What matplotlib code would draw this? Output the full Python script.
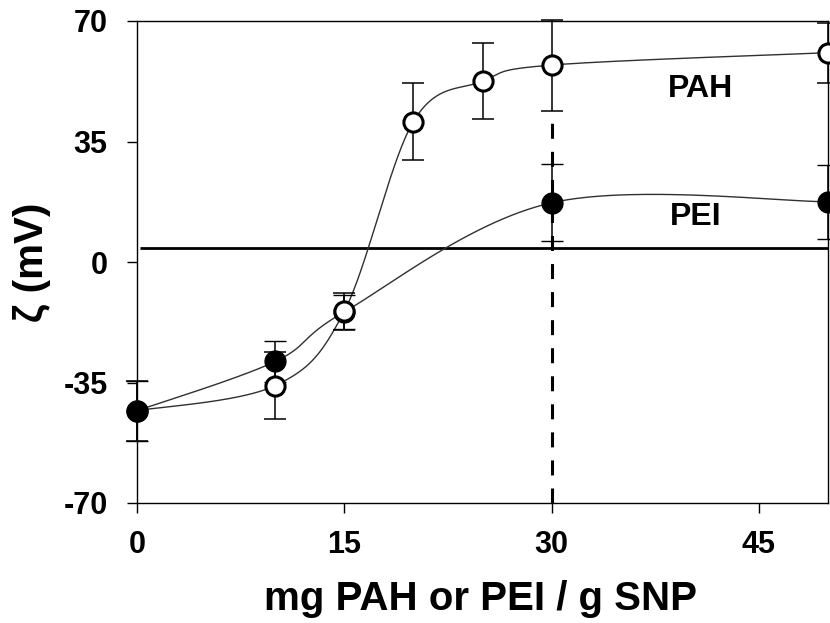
import numpy as np
import matplotlib
matplotlib.use("Agg")
import matplotlib.pyplot as plt

# ---- data ----
x_pah = [0, 10, 15, 20, 25, 30, 50]
y_pah = [-43.2, -35.9, -14.3, 40.8, 52.5, 57.2, 60.8]
e_pah = [8.7, 9.8, 5.4, 11.1, 11.0, 13.2, 8.7]

x_pei = [0, 10, 15, 30, 50]
y_pei = [-43.2, -28.9, -14.5, 17.2, 17.5]
e_pei = [8.7, 6.0, 5.0, 11.2, 10.8]

x_ticks = [0, 15, 30, 45]
y_ticks = [-70, -35, 0, 35, 70]
ref_level = 4.0
marker_x = 30
label_pah = "PAH"
label_pei = "PEI"
xlabel = "mg PAH or PEI / g SNP"
ylabel = "ζ (mV)"


def excel_smooth(x, y, n=60):
    P = np.column_stack([x, y]).astype(float)
    out = []
    for i in range(len(P) - 1):
        p0 = P[i - 1] if i > 0 else P[i]
        p1 = P[i]
        p2 = P[i + 1]
        p3 = P[i + 2] if i + 2 < len(P) else P[i + 1]
        c1 = p1 + (p2 - p0) / 6.0
        c2 = p2 - (p3 - p1) / 6.0
        t = np.linspace(0, 1, n)[:, None]
        seg = (1 - t) ** 3 * p1 + 3 * (1 - t) ** 2 * t * c1 + 3 * (1 - t) * t ** 2 * c2 + t ** 3 * p2
        out.append(seg if i == 0 else seg[1:])
    s = np.vstack(out)
    return s[:, 0], s[:, 1]


plt.rcParams['font.family'] = ['Liberation Sans', 'DejaVu Sans']
plt.rcParams['font.weight'] = 'bold'
plt.rcParams['axes.unicode_minus'] = False

W, H = 830, 623
fig = plt.figure(figsize=(W / 100, H / 100), dpi=100)
ax = fig.add_axes([137 / W, (H - 503) / H, (828 - 137) / W, (503 - 21) / H])

ax.set_xlim(0, 50)
ax.set_ylim(-70, 70)

# reference lines
ax.plot([0.2, 50], [ref_level, ref_level], color='black', lw=2.0, zorder=2, solid_capstyle='butt')
lw_d = 2.2
ax.plot([marker_x, marker_x], [-70, 43.8], color='black', lw=lw_d,
        linestyle=(0, (10.8 / lw_d, 9.4 / lw_d)), zorder=2)

# smooth curves
sx, sy = excel_smooth(x_pei, y_pei)
ax.plot(sx, sy, color='#303030', lw=1.0, zorder=3)
sx, sy = excel_smooth(x_pah, y_pah)
ax.plot(sx, sy, color='#303030', lw=1.0, zorder=3)

# error bars + markers
ax.errorbar(x_pei, y_pei, yerr=e_pei, fmt='o', ms=15.0, mfc='black', mec='black', mew=1.0,
            ecolor='black', elinewidth=1.1, capsize=7.9, capthick=1.1, zorder=4, clip_on=False)
ax.errorbar(x_pah, y_pah, yerr=e_pah, fmt='none',
            ecolor='black', elinewidth=1.1, capsize=7.9, capthick=1.1, zorder=4, clip_on=False)
ax.plot(x_pah[1:], y_pah[1:], 'o', ms=13.8, mfc='white', mec='black', mew=2.2, zorder=5, clip_on=False)
ax.plot(x_pei[:1], y_pei[:1], 'o', ms=15.0, mfc='black', mec='black', mew=1.0, zorder=6, clip_on=False)

# text labels
ax.text(40.8, 50.2, label_pah, fontsize=23, fontweight='bold', ha='center', va='center')
ax.text(40.4, 13.1, label_pei, fontsize=23, fontweight='bold', ha='center', va='center')

ax.set_xticks(x_ticks)
ax.set_yticks(y_ticks)
ax.tick_params(axis='both', direction='out', length=7.2, width=1.0, labelsize=22, colors='black')
ax.tick_params(axis='y', pad=14)
ax.tick_params(axis='x', pad=12)
for lab in ax.get_xticklabels() + ax.get_yticklabels():
    lab.set_fontweight('bold')

for sp in ax.spines.values():
    sp.set_linewidth(1.0)
    sp.set_color('black')

ax.set_xlabel(xlabel, fontsize=29, fontweight='bold', va='center')
ax.xaxis.set_label_coords(0.497, -0.199)
ax.set_ylabel(ylabel, fontsize=29, fontweight='bold', va='center')
ax.yaxis.set_label_coords(-0.152, 0.5)

fig.savefig('out.png', dpi=100)
